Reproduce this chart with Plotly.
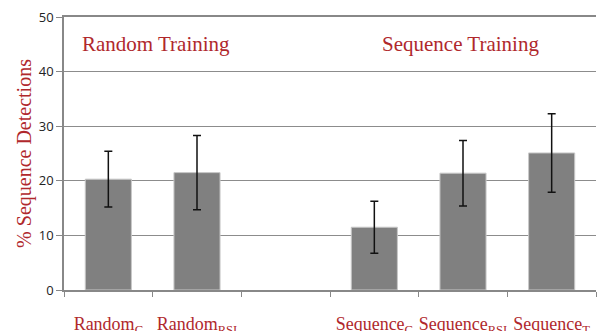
import plotly.graph_objects as go

categories = ["Random<sub>C</sub>", "Random<sub>RSI</sub>", " ", "Sequence<sub>C</sub>",
              "Sequence<sub>RSI</sub>", "Sequence<sub>T</sub>"]
values = [20.3, 21.5, None, 11.5, 21.4, 25.1]
errors = [5.1, 6.8, None, 4.75, 6.0, 7.2]
group_labels = ["Random Training", "Sequence Training"]

red = "#b0282c"
serif = "Liberation Serif, Times New Roman, serif"

fig = go.Figure()
fig.add_trace(go.Bar(
    x=categories, y=values,
    marker=dict(color="#808080", line=dict(color="#c8c8c8", width=1)),
    width=0.52,
    error_y=dict(type="data", array=errors, color="#111111", thickness=1.5, width=4, visible=True),
))

fig.add_annotation(x=-0.32, y=45, xref="x", yref="y", text=group_labels[0], showarrow=False,
                   xanchor="left", yanchor="middle", font=dict(family=serif, size=21, color=red))
fig.add_annotation(x=3.06, y=45, xref="x", yref="y", text=group_labels[1], showarrow=False,
                   xanchor="left", yanchor="middle", font=dict(family=serif, size=21, color=red))

fig.update_layout(
    width=598, height=331,
    margin=dict(l=64, r=2, t=17, b=41),
    paper_bgcolor="white", plot_bgcolor="white",
    showlegend=False,
    bargap=0.48,
)
fig.update_xaxes(
    type="category", tickson="boundaries", ticks="outside", ticklen=5, tickcolor="#888888",
    showline=True, linecolor="#888888", linewidth=1.5, showgrid=False, mirror=True,
    tickfont=dict(family=serif, size=18, color=red), ticklabelstandoff=17, tickangle=0,
    range=[-0.5, 5.5], automargin=False,
)
fig.update_yaxes(
    range=[0, 50], dtick=10, ticks="outside", ticklen=6, tickcolor="#888888",
    showline=True, linecolor="#888888", linewidth=1.5,
    showgrid=True, gridcolor="#8c8c8c", gridwidth=1, zeroline=False,
    tickfont=dict(family="Open Sans, Liberation Sans, sans-serif", size=13, color="#222222"),
    title=dict(text="% Sequence Detections", font=dict(family=serif, size=20, color=red), standoff=2),
    automargin=False, ticklabeloverflow="allow",
)

fig.write_html("out.html", config={"displayModeBar": False},
               post_script="document.body.style.margin='0';")
